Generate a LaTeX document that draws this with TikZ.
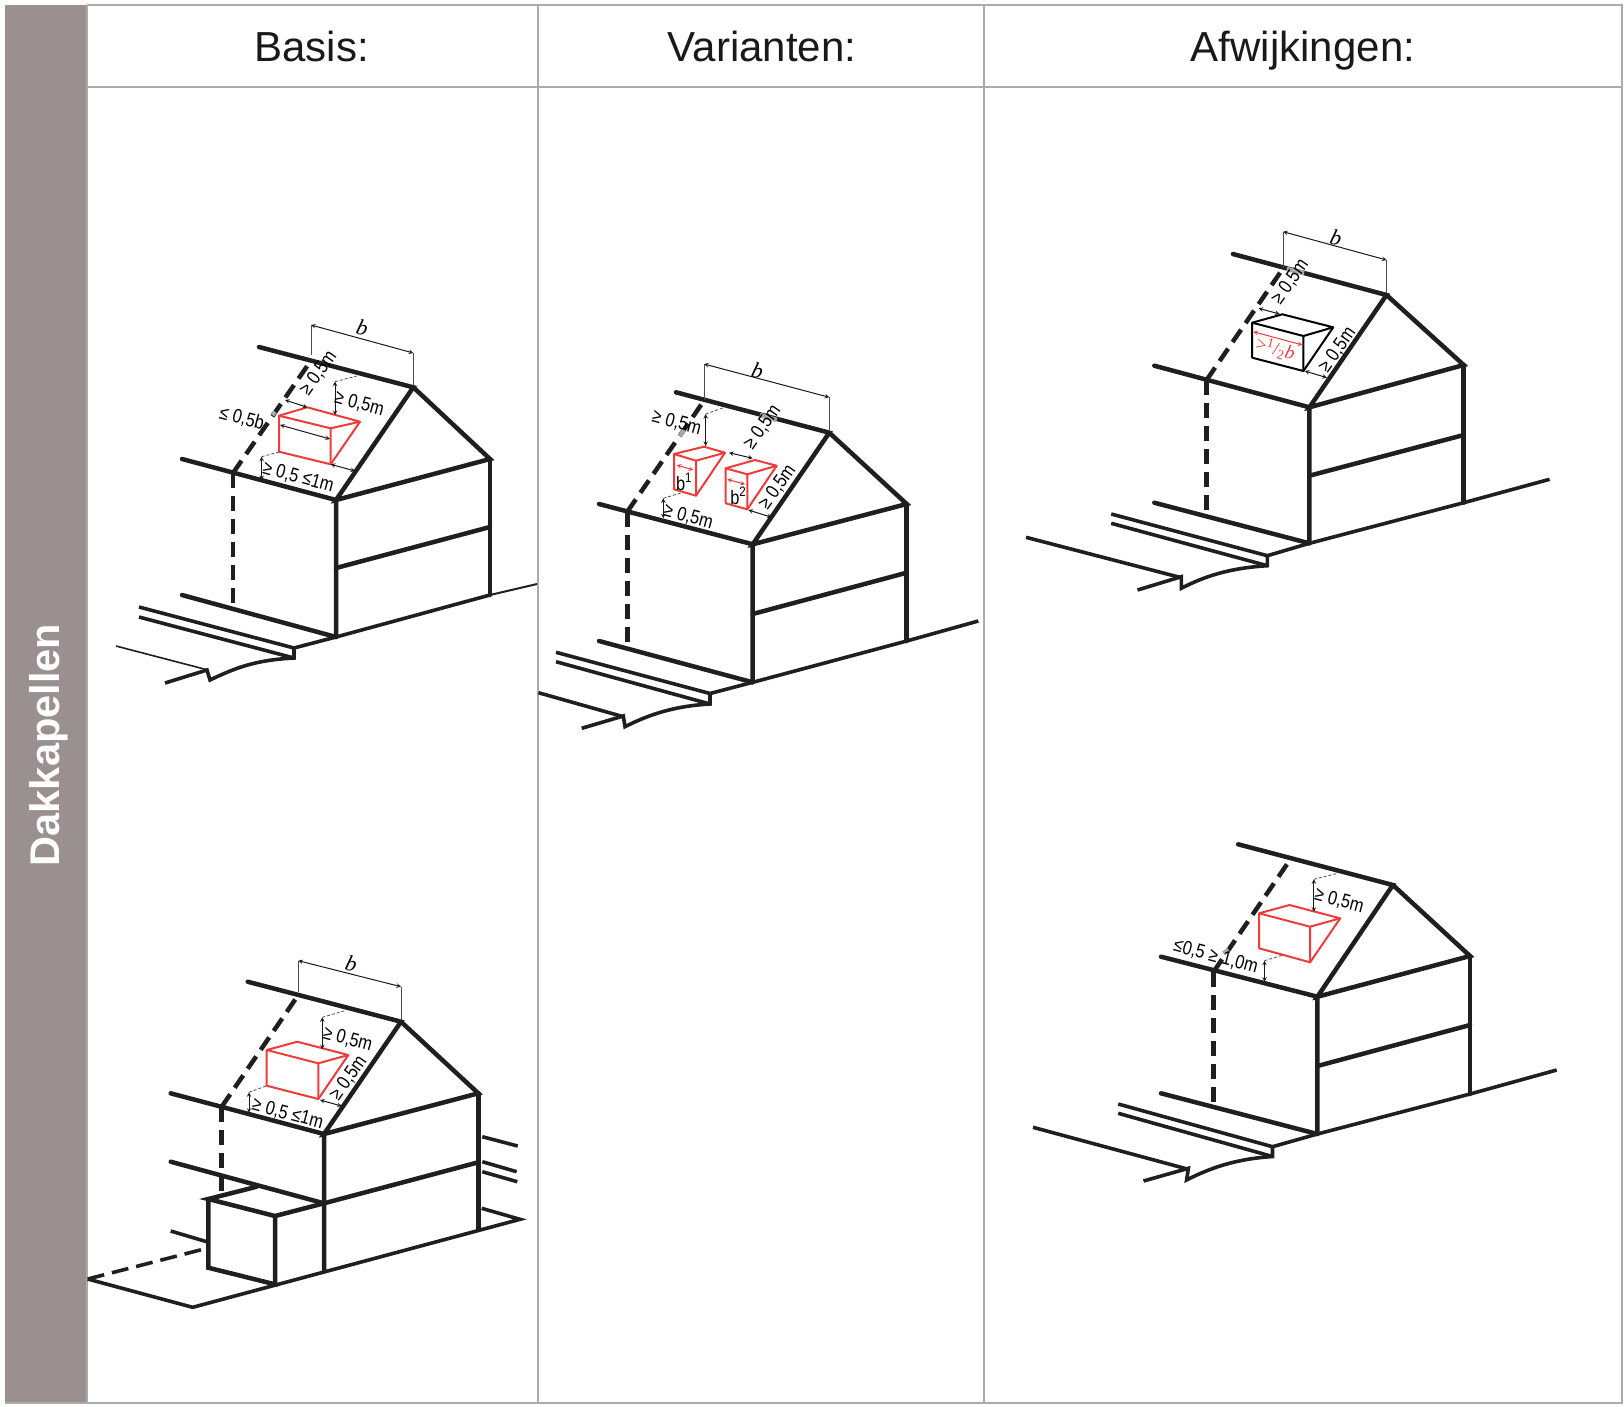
\documentclass[tikz,border=0pt]{standalone}
\usepackage{fontspec}
\setmainfont{Liberation Sans}
\newfontfamily\maatfont[FakeStretch=0.84]{Liberation Sans}
\newfontfamily\breedtefont{Liberation Serif}
\definecolor{balk}{HTML}{9A9090}
\definecolor{raster}{HTML}{ABABAB}
\definecolor{kapel}{HTML}{EE3B3B}
\definecolor{vlekgrijs}{HTML}{A8A8A8}
\tikzstyle{raster lijn} = [draw=raster, line width=2pt]
\tikzstyle{kop} = [anchor=base, font=\fontsize{42}{42}\selectfont, text=black!90]
\tikzstyle{muur} = [line width=4.5pt, draw=black!88, line cap=round, line join=miter]
\tikzstyle{grond} = [line width=3.6pt, draw=black!88, line join=miter]
\tikzstyle{streep} = [line width=4.5pt, draw=black!88, dash pattern=on 15pt off 8pt]
\tikzstyle{rood} = [line width=2pt, draw=kapel, line join=round]
\tikzstyle{zwart kapel} = [line width=2pt, draw=black, line join=round]
\tikzstyle{maat} = [<->, >=stealth, line width=1pt, draw=black!90]
\tikzstyle{maat rood} = [<->, >=stealth, line width=1pt, draw=kapel]
\tikzstyle{hulp} = [line width=0.8pt, draw=black!70]
\tikzstyle{hulp stip} = [line width=0.8pt, draw=black!70, densely dashed]
\tikzstyle{vlek} = [line width=4.5pt, draw=vlekgrijs]
\tikzstyle{label} = [font=\maatfont\fontsize{19.5}{19.5}\selectfont, text=black, inner sep=0pt]
\tikzstyle{breedte} = [rotate=-15, font=\breedtefont\itshape\fontsize{22}{22}\selectfont, inner sep=0pt]

\begin{document}
\begin{tikzpicture}[x=1pt, y=-1pt]
    \useasboundingbox (0,0) rectangle (1624,1406);

    % tabel
    \fill[balk] (5,5) rectangle (87,1403);
    \draw[raster lijn] (87,5) -- (1622,5) -- (1622,1403) -- (5,1403);
    \draw[raster lijn] (87,87) -- (1622,87);
    \draw[raster lijn] (87,5) -- (87,1403);
    \draw[raster lijn] (537.5,5) -- (537.5,1403);
    \draw[raster lijn] (984,5) -- (984,1403);
    \node (zijbalk) [rotate=90, text=white, font=\bfseries\fontsize{41.5}{41.5}\selectfont] at (49,745) {Dakkapellen};
    \node (kop1) [kop] at (311.5,61) {Basis:};
    \node (kop2) [kop] at (762,61) {Varianten:};
    \node (kop3) [kop] at (1303,61) {Afwijkingen:};

    % huis linksboven
    \draw[muur] (259,347) -- (413.3,387.3) -- (336,500) -- (490,459) -- (413.3,387.3);
    \draw[muur] (182,459) -- (336,500) -- (336,637);
    \draw[muur] (490,459) -- (490,595);
    \draw[muur] (336,568) -- (490,527);
    \draw[muur] (182,595) -- (336,637);
    \draw[grond] (294,648) -- (336,637) -- (490,595);
    \draw[line width=2pt, draw=black!88] (490,595) -- (537,584);
    \draw[grond] (139,607) -- (294,648) -- (294,658) .. controls (255,660) and (235,668) .. (210,680) -- (207,670) -- (165,683);
    \draw[grond] (139,617) -- (294,658);
    \draw[line width=1.6pt, draw=black!88] (116,646) -- (208,670);
    \draw[streep] (233,473) -- (233,605);
    \draw[streep] (233,473) -- (310,362);
    \draw[vlek] (272.3,415) -- (275,411.7);
    \draw[maat] (311,325) -- (413.3,353);
    \draw[hulp] (311,325) -- (311,355);
    \draw[hulp] (413.3,353) -- (413.3,385);
    \node (b1) [breedte] at (362.5,328) {b};
    \draw[rood] (279,415.7) -- (330.7,428.3) -- (330.7,464.3) -- (279,451.7) -- cycle;
    \draw[rood] (279,415.7) -- (307.3,407.3) -- (360,421.7) -- (330.7,428.3);
    \draw[rood] (360,421.7) -- (330.7,464.3);
    \draw[maat] (280,425) -- (330,439);
    \draw[maat] (285,400) -- (307.3,407.3);
    \node (m1a) [label, rotate=55] at (318.3,373.3) {≥ 0,5m};
    \draw[maat] (335,381.7) -- (335,415);
    \draw[hulp stip] (335,381.7) -- (356.7,376);
    \node (m1b) [label, rotate=-15] at (359.3,404) {≥ 0,5m};
    \node (m1c) [label, rotate=-15] at (241.7,418.3) {≤ 0,5b};
    \draw[maat] (261.7,456.7) -- (261.7,480);
    \draw[hulp stip] (261.7,456.7) -- (280,451.7);
    \node (m1d) [label, rotate=-15] at (298.3,477.3) {≥ 0,5 ≤1m};
    \draw[maat] (330.7,464.3) -- (355,471);

    % huis linksonder
    \draw[muur] (247.7,981.7) -- (401,1021.7) -- (324,1134) -- (478.3,1093.3) -- (401,1021.7);
    \draw[muur] (170.7,1093.3) -- (324,1134) -- (324,1271);
    \draw[muur] (478.3,1093.3) -- (478.3,1229.3);
    \draw[muur] (170.7,1161.7) -- (324,1203.3) -- (476.7,1162.7);
    \draw[grond] (87.7,1279) -- (192.7,1307.3) -- (520,1219.3) -- (481.7,1208.3);
    \draw[grond] (482.3,1136.7) -- (517.7,1146);
    \draw[grond] (482.3,1161.7) -- (516.7,1171.7);
    \draw[grond] (482.3,1171.7) -- (517.3,1181.7);
    \draw[grond] (170.7,1231) -- (206.7,1241.7);
    \draw[muur] (256.7,1186.7) -- (208.3,1199) -- (275,1216) -- (324,1203.3);
    \draw[muur] (208.3,1199) -- (208.3,1267.7) -- (275,1284.3) -- (275,1216);
    \draw[line width=3.6pt, draw=black!88, dash pattern=on 17pt off 8pt] (87.7,1279) -- (206.7,1248.3);
    \draw[streep] (221.7,1106.7) -- (221.7,1196.7);
    \draw[streep] (221.7,1106.7) -- (298.3,995);
    \draw[maat] (298.3,960.7) -- (401,986.7);
    \draw[hulp] (298.3,960.7) -- (298.3,992);
    \draw[hulp] (401,986.7) -- (401,1020);
    \node (b2) [breedte] at (351.5,964) {b};
    \draw[rood] (266.7,1050) -- (318.3,1063.3) -- (318.3,1099) -- (266.7,1085.7) -- cycle;
    \draw[rood] (266.7,1050) -- (297.3,1041.7) -- (348.3,1055) -- (318.3,1063.3);
    \draw[rood] (348.3,1055) -- (318.3,1099);
    \draw[maat] (322.3,1017.3) -- (322.3,1049.3);
    \draw[hulp stip] (322.3,1017.3) -- (345,1010.7);
    \node (m2a) [label, rotate=-15] at (347.7,1039.3) {≥ 0,5m};
    \node (m2b) [label, rotate=55] at (348.3,1078.3) {≥ 0,5m};
    \draw[maat] (320,1100) -- (341.7,1106);
    \draw[maat] (249,1092.3) -- (249,1112.7);
    \draw[hulp stip] (249,1092.3) -- (266.7,1085.7);
    \node (m2c) [label, rotate=-15] at (287.7,1114) {≥ 0,5 ≤1m};

    % huis midden
    \draw[muur] (676,392.3) -- (829.3,432.7) -- (752.7,544.3) -- (906.7,504) -- (829.3,432.7);
    \draw[muur] (599,504) -- (752.7,544.3) -- (752.7,682.3);
    \draw[muur] (906.7,504) -- (906.7,641);
    \draw[muur] (752.7,614) -- (906.7,572.7);
    \draw[muur] (599,641) -- (752.7,682.3);
    \draw[grond] (710,693.5) -- (752.7,682.3) -- (906.7,641) -- (978.3,621);
    \draw[grond] (556,652.3) -- (710,693.5) -- (710,704) .. controls (675,706) and (650,714) .. (625,726.7) -- (623.3,716) -- (581.7,728.3);
    \draw[grond] (556,661.7) -- (710,704);
    \draw[grond] (538.5,692.7) -- (623.3,716.7);
    \draw[streep] (627.3,511.7) -- (627.3,645);
    \draw[streep] (627.3,511.7) -- (703.3,401.7);
    \draw[vlek] (760,415) -- (776.7,420);
    \draw[vlek] (680,436) -- (684,430);
    \draw[maat] (704,364) -- (829.3,397.3);
    \draw[hulp] (704,364) -- (704,400);
    \draw[hulp] (829.3,397.3) -- (829.3,430);
    \node (b3) [breedte] at (757.5,371) {b};
    \draw[rood] (674,454) -- (696,460.7) -- (696,495.7) -- (674,489.3) -- cycle;
    \draw[rood] (674,454) -- (704,446.7) -- (725,452.7) -- (696,460.7);
    \draw[rood] (725,452.7) -- (696,495.7);
    \draw[rood] (725.7,468.3) -- (747.3,474.3) -- (747.3,509.3) -- (725.7,503.3) -- cycle;
    \draw[rood] (725.7,468.3) -- (755,460) -- (776.7,465.7) -- (747.3,474.3);
    \draw[rood] (776.7,465.7) -- (747.3,509.3);
    \draw[maat rood] (676.7,465) -- (693.3,470);
    \draw[maat rood] (727.3,479.3) -- (745,484.3);
    \node (bk1) [label] at (684,481.7) {b\textsuperscript{1}};
    \node (bk2) [label] at (738.3,496) {b\textsuperscript{2}};
    \draw[maat] (705.7,414) -- (705.7,446);
    \draw[hulp stip] (705.7,414) -- (723.3,407.7);
    \node (m3a) [label, rotate=-15] at (676.7,422.7) {≥ 0,5m};
    \draw[maat] (729,452.7) -- (752.7,458.3);
    \node (m3b) [label, rotate=55] at (762.3,427.3) {≥ 0,5m};
    \node (m3c) [label, rotate=55] at (777.3,487.3) {≥ 0,5m};
    \draw[maat] (748.3,510) -- (771.7,517.3);
    \draw[maat] (663.3,498.3) -- (663.3,518.3);
    \draw[hulp stip] (663.3,498.3) -- (681.7,492.7);
    \node (m3d) [label, rotate=-15] at (688.3,516.7) {≥ 0,5m};

    % huis rechtsboven
    \draw[muur] (1232.9,254) -- (1386.5,295) -- (1309.4,407.3) -- (1463.7,365) -- (1386.5,295);
    \draw[muur] (1154.3,365.7) -- (1309.4,407.3) -- (1309.4,543.3);
    \draw[muur] (1463.7,365) -- (1463.7,502.7);
    \draw[muur] (1309.4,475.7) -- (1463.7,435);
    \draw[muur] (1154.3,502.7) -- (1309.4,543.3);
    \draw[grond] (1267.3,555.7) -- (1309.4,543.3) -- (1463.7,502.7) -- (1549.6,479.3);
    \draw[grond] (1111.2,514) -- (1267.3,555.7) -- (1267.3,565.7) .. controls (1230,568) and (1205,576) .. (1181.3,588.3) -- (1181.3,576.7) -- (1137.5,590);
    \draw[grond] (1111.2,523.3) -- (1267.3,565.7);
    \draw[grond] (1026,537.3) -- (1181.3,577.7);
    \draw[streep] (1206.6,380) -- (1206.6,511.7);
    \draw[streep] (1206.6,380) -- (1283.1,268.3);
    \draw[vlek] (1286.6,269) -- (1304.1,273);
    \draw[maat] (1283.1,231.7) -- (1386.5,260);
    \draw[hulp] (1283.1,231.7) -- (1283.1,268);
    \draw[hulp] (1386.5,260) -- (1386.5,293);
    \node (b4) [breedte] at (1336,238) {b};
    \draw[zwart kapel] (1252.2,322.7) -- (1303.4,336) -- (1303.4,371) -- (1252.2,357.7) -- cycle;
    \draw[zwart kapel] (1252.2,322.7) -- (1282.4,314.3) -- (1333.2,327.3) -- (1303.4,336);
    \draw[zwart kapel] (1333.2,327.3) -- (1303.4,371);
    \draw[maat rood] (1253.3,331.7) -- (1302.4,345);
    \node (rest) [rotate=-15, text=kapel, inner sep=0pt, font=\breedtefont\fontsize{19}{19}\selectfont] at (1275.3,349) {>\textsuperscript{1}/\textsubscript{2}\textit{b}};
    \draw[maat] (1258.5,308.3) -- (1279.6,314);
    \node (m4a) [label, rotate=55] at (1290.1,281.7) {≥ 0,5m};
    \node (m4b) [label, rotate=55] at (1337.4,350) {≥ 0,5m};
    \draw[maat] (1304.8,371) -- (1326.9,377.7);

    % huis rechtsonder
    \draw[muur] (1238.2,844.3) -- (1392.9,885) -- (1317.4,996.7) -- (1470,956) -- (1392.9,885);
    \draw[muur] (1161,956.7) -- (1317.4,996.7) -- (1317.4,1134);
    \draw[muur] (1470,956) -- (1470,1094);
    \draw[muur] (1317.4,1066) -- (1470,1025);
    \draw[muur] (1161,1093.3) -- (1317.4,1134);
    \draw[grond] (1272.5,1146.7) -- (1317.4,1134) -- (1470,1094) -- (1556.7,1070);
    \draw[grond] (1118.2,1104) -- (1272.5,1146.7) -- (1272.5,1156.5) .. controls (1235,1159) and (1210,1168) .. (1186.6,1180) -- (1188.4,1168.3) -- (1143.5,1181);
    \draw[grond] (1118.2,1113.3) -- (1272.5,1156.5);
    \draw[grond] (1033,1127.3) -- (1188.4,1169.3);
    \draw[streep] (1213.6,971.7) -- (1213.6,1103.3);
    \draw[streep] (1213.6,971.7) -- (1289.4,860.7);
    \draw[vlek] (1223.4,953.3) -- (1228.7,950);
    \draw[rood] (1259.2,913.3) -- (1310.1,926.7) -- (1310.1,962.3) -- (1259.2,948.3) -- cycle;
    \draw[rood] (1259.2,913.3) -- (1289.4,905) -- (1340.2,918.3) -- (1310.1,926.7);
    \draw[rood] (1340.2,918.3) -- (1310.1,962.3);
    \draw[maat] (1313.9,879.3) -- (1313.9,911.7);
    \draw[hulp stip] (1313.9,879.3) -- (1337.4,873.3);
    \node (m5a) [label, rotate=-15] at (1339.2,900.7) {≥ 0,5m};
    \node (m5b) [label, rotate=-15] at (1215.7,956.7) {≤0,5 ≥ 1,0m};
    \draw[maat] (1264.5,960.7) -- (1264.5,981.7);
    \draw[hulp stip] (1264.5,960.7) -- (1283.1,955);
\end{tikzpicture}
\end{document}
